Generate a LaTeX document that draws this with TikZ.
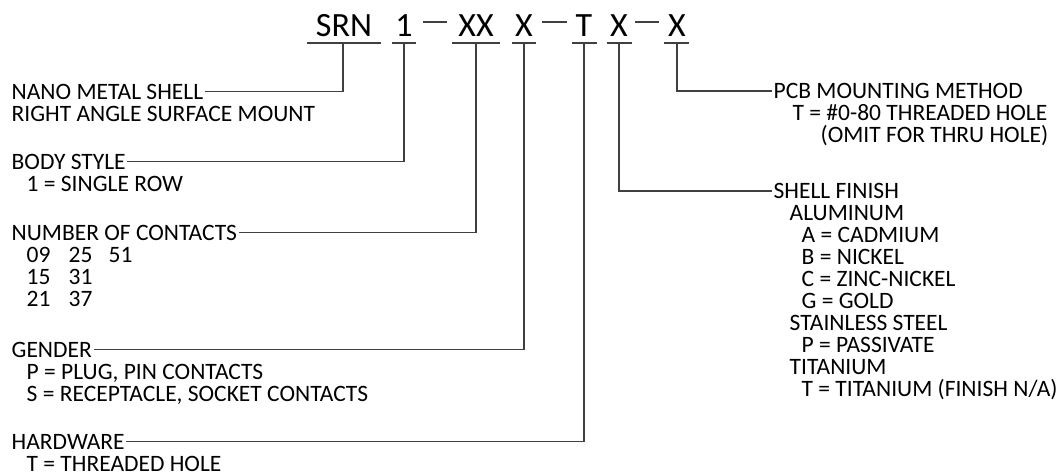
\documentclass[tikz,border=0pt]{standalone}
\usepackage{fontspec}
\setmainfont{Carlito}
\definecolor{linegray}{HTML}{404040}
\begin{document}
\begin{tikzpicture}[x=1pt,y=-1pt,
  lbl/.style={anchor=base west, inner xsep=1.5pt, inner ysep=0pt,
    font=\fontsize{23.5}{22}\selectfont, text height=15pt, text depth=0pt},
  code/.style={anchor=base, inner sep=0pt, font=\fontsize{34}{34}\selectfont},
  ln/.style={draw=linegray, line width=1.1pt}]
\useasboundingbox (0,0) rectangle (1060,475);

% ---- part number code ----
\node[code] (srn) at (344,36) {SRN};
\node[code] (c1)  at (404,36) {1};
\node[code] (cxx) at (476,36) {XX};
\node[code] (cx1) at (524,36) {X};
\node[code] (ct)  at (584,36) {T};
\node[code] (cx2) at (619,36) {X};
\node[code] (cx3) at (677,36) {X};

% dashes
\coordinate (d1a) at (423,22); \coordinate (d1b) at (447,22);
\coordinate (d2a) at (542,22); \coordinate (d2b) at (567,22);
\coordinate (d3a) at (635,22); \coordinate (d3b) at (659,22);
\draw[ln] (d1a) -- (d1b);
\draw[ln] (d2a) -- (d2b);
\draw[ln] (d3a) -- (d3b);

% underlines
\draw[ln] (307,43) -- (381,43);
\draw[ln] (392,43) -- (416,43);
\draw[ln] (452,43) -- (500,43);
\draw[ln] (512,43) -- (536,43);
\draw[ln] (572,43) -- (597,43);
\draw[ln] (607,43) -- (632,43);
\draw[ln] (664,43) -- (689,43);

\coordinate (u1) at (343,43);
\coordinate (u2) at (404,43);
\coordinate (u3) at (476,43);
\coordinate (u4) at (524,43);
\coordinate (u5) at (584,43);
\coordinate (u6) at (619,43);
\coordinate (u7) at (677,43);

% ---- left descriptions ----
\node[lbl] (nano) at (10,99) {NANO METAL SHELL};
\node[lbl] (nano2) at (10,121) {RIGHT ANGLE SURFACE MOUNT};

\node[lbl] (body) at (10,169) {BODY STYLE};
\node[lbl] (body1) at (25,191) {1 = SINGLE ROW};

\node[lbl] (num) at (10,240) {NUMBER OF CONTACTS};
\node[lbl] (n09) at (25,262) {09};
\node[lbl] (n25) at (67,262) {25};
\node[lbl] (n51) at (107,262) {51};
\node[lbl] (n15) at (25,284) {15};
\node[lbl] (n31) at (67,284) {31};
\node[lbl] (n21) at (25,306) {21};
\node[lbl] (n37) at (67,306) {37};

\node[lbl] (gender) at (10,357) {GENDER};
\node[lbl] (gp) at (25,379) {P = PLUG, PIN CONTACTS};
\node[lbl] (gs) at (25,401) {S = RECEPTACLE, SOCKET CONTACTS};

\node[lbl] (hw) at (10,449) {HARDWARE};
\node[lbl] (hwt) at (25,471) {T = THREADED HOLE};

% ---- right descriptions ----
\node[lbl] (pcb) at (772,98.5) {PCB MOUNTING METHOD};
\node[lbl] (pcb1) at (791,120.5) {T = \#0-80 THREADED HOLE};
\node[lbl] (pcb2) at (819,142.5) {(OMIT FOR THRU HOLE)};

\node[lbl] (shell) at (772,198.5) {SHELL FINISH};
\node[lbl] (alu) at (788,220.5) {ALUMINUM};
\node[lbl] (sa) at (800,242.5) {A = CADMIUM};
\node[lbl] (sb) at (800,264.5) {B = NICKEL};
\node[lbl] (sc) at (800,286.5) {C = ZINC-NICKEL};
\node[lbl] (sg) at (800,308.5) {G = GOLD};
\node[lbl] (ss) at (788,330.5) {STAINLESS STEEL};
\node[lbl] (sp) at (800,352.5) {P = PASSIVATE};
\node[lbl] (ti) at (788,374.5) {TITANIUM};
\node[lbl] (st) at (800,396.5) {T = TITANIUM (FINISH N/A)};

% ---- connectors ----
\draw[ln] (u1) |- (nano.east);
\draw[ln] (u2) |- (body.east);
\draw[ln] (u3) |- (num.east);
\draw[ln] (u4) |- (gender.east);
\draw[ln] (u5) |- (hw.east);
\draw[ln] (u6) |- (shell.west);
\draw[ln] (u7) |- (pcb.west);
\end{tikzpicture}
\end{document}
